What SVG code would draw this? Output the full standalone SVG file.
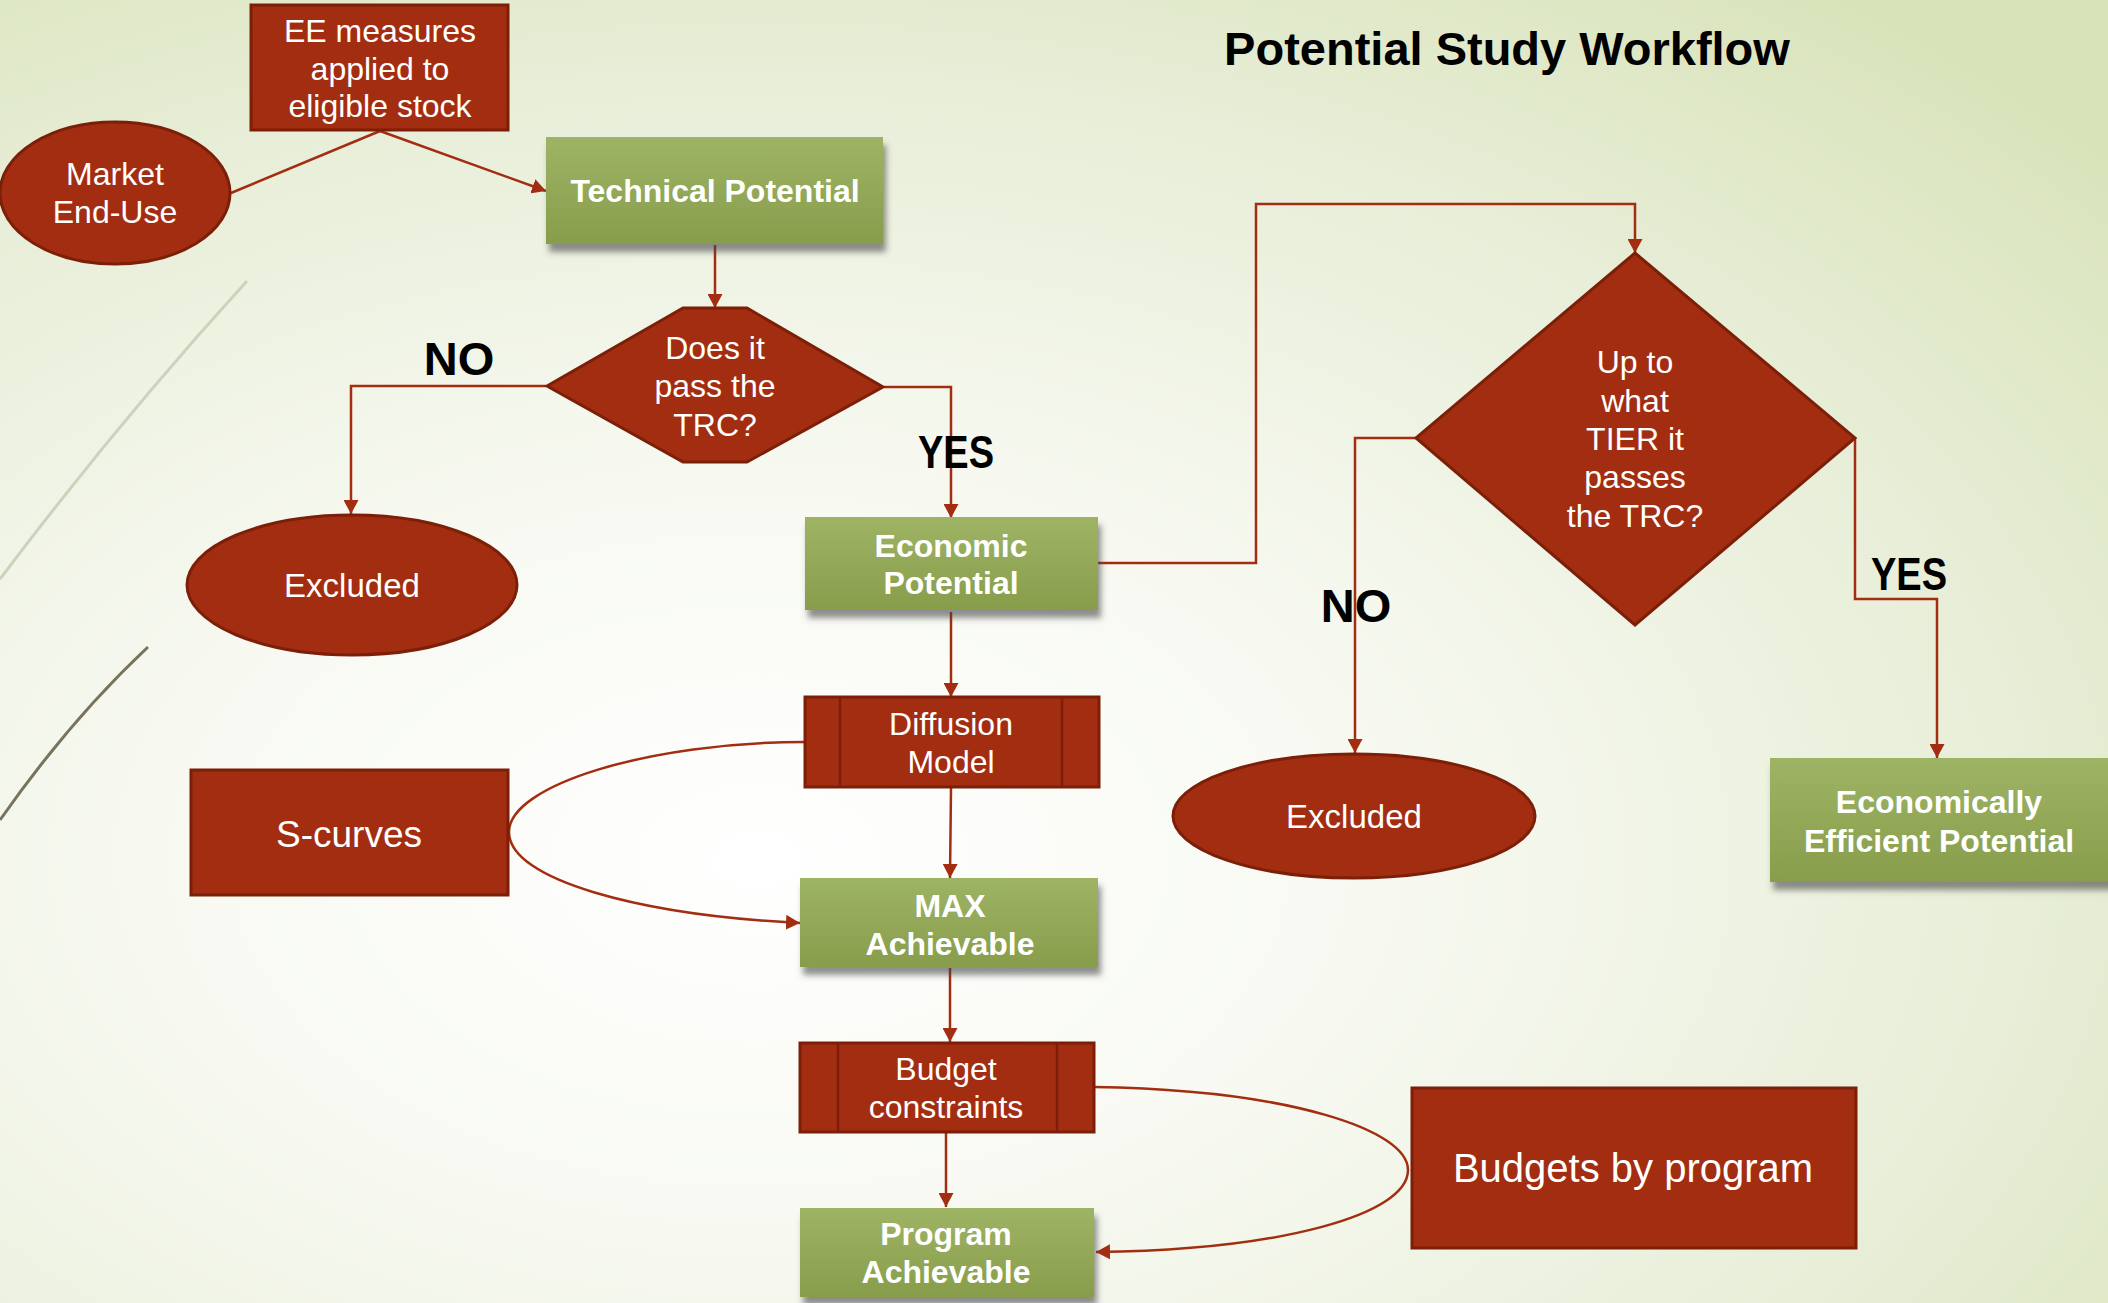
<svg xmlns="http://www.w3.org/2000/svg" width="2108" height="1303" viewBox="0 0 2108 1303">
<defs>
  <radialGradient id="bg" cx="0.36" cy="0.66" r="0.85">
    <stop offset="0" stop-color="#FFFFFF"/>
    <stop offset="0.35" stop-color="#F7F9F1"/>
    <stop offset="0.7" stop-color="#E8EED8"/>
    <stop offset="1" stop-color="#D8E3B9"/>
  </radialGradient>
  <linearGradient id="grn" x1="0" y1="0" x2="0" y2="1">
    <stop offset="0" stop-color="#9EB465"/>
    <stop offset="1" stop-color="#889D4B"/>
  </linearGradient>
  <filter id="sh" x="-10%" y="-10%" width="125%" height="140%">
    <feDropShadow dx="3" dy="8" stdDeviation="3" flood-color="#444" flood-opacity="0.6"/>
  </filter>
  <marker id="arr" viewBox="0 0 14 15" refX="14" refY="7.5" markerWidth="14" markerHeight="15" markerUnits="userSpaceOnUse" orient="auto">
    <path d="M0,0 L14,7.5 L0,15 z" fill="#A32D10"/>
  </marker>
  <style>
    .red{fill:#A32D10;stroke:#7C1F09;stroke-width:3}
    .inner{stroke:#7C1F09;stroke-width:2.5}
    .green{fill:url(#grn);filter:url(#sh)}
    .w{fill:#FFFFFF;font-family:"Liberation Sans",Arial,sans-serif;font-size:32px;text-anchor:middle}
    .wb{fill:#FFFFFF;font-family:"Liberation Sans",Arial,sans-serif;font-size:32px;font-weight:bold;text-anchor:middle}
    .lbl{fill:#000000;font-family:"Liberation Sans",Arial,sans-serif;font-size:47px;font-weight:bold;text-anchor:middle}
    .title{fill:#000000;font-family:"Liberation Sans",Arial,sans-serif;font-size:47px;font-weight:bold;text-anchor:middle}
    .c{fill:none;stroke:#A32D10;stroke-width:2.5}
  </style>
</defs>

<rect x="0" y="0" width="2108" height="1303" fill="url(#bg)"/>

<!-- decorative theme lines -->
<path d="M247,281 Q120,420 0,579" fill="none" stroke="#CDD2BC" stroke-width="3"/>
<path d="M148,647 Q70,720 0,820" fill="none" stroke="#77735C" stroke-width="3"/>

<text class="title" x="1507" y="65">Potential Study Workflow</text>

<g id="connectors">
  <path class="c" d="M380,131 L231,193"/>
  <path class="c" d="M380,131 L546,191" marker-end="url(#arr)"/>
  <path class="c" d="M715,245 L715,308" marker-end="url(#arr)"/>
  <path class="c" d="M546,386 L351,386 L351,514" marker-end="url(#arr)"/>
  <path class="c" d="M884,387 L951,387 L951,518" marker-end="url(#arr)"/>
  <path class="c" d="M1098,563 L1256,563 L1256,204 L1635,204 L1635,253" marker-end="url(#arr)"/>
  <path class="c" d="M1416,438 L1355,438 L1355,753" marker-end="url(#arr)"/>
  <path class="c" d="M1855,438 L1855,599 L1937,599 L1937,758" marker-end="url(#arr)"/>
  <path class="c" d="M951,612 L951,697" marker-end="url(#arr)"/>
  <path class="c" d="M951,788 L950,878" marker-end="url(#arr)"/>
  <path class="c" d="M805,742 C650,742 509,785 509,832 C509,880 640,915 800,923" marker-end="url(#arr)"/>
  <path class="c" d="M950,968 L950,1042" marker-end="url(#arr)"/>
  <path class="c" d="M946,1132 L946,1207" marker-end="url(#arr)"/>
  <path class="c" d="M1094,1087 C1290,1090 1408,1130 1408,1170 C1408,1215 1280,1250 1096,1252" marker-end="url(#arr)"/>
</g>

<g id="ee-measures">
  <rect class="red" x="251" y="5" width="257" height="125"/>
  <text class="w" x="380" y="42">EE measures</text>
  <text class="w" x="380" y="80">applied to</text>
  <text class="w" x="380" y="117">eligible stock</text>
</g>

<g id="market-end-use">
  <ellipse class="red" cx="115" cy="193" rx="115" ry="71"/>
  <text class="w" x="115" y="185">Market</text>
  <text class="w" x="115" y="223">End-Use</text>
</g>

<g id="technical-potential">
  <rect class="green" x="546" y="137" width="337" height="107"/>
  <text class="wb" x="715" y="202">Technical Potential</text>
</g>

<g id="pass-trc">
  <polygon class="red" points="547,386 683,308 747,308 883,387 747,462 683,462"/>
  <text class="w" x="715" y="359">Does it</text>
  <text class="w" x="715" y="397">pass the</text>
  <text class="w" x="715" y="436">TRC?</text>
</g>

<text class="lbl" x="459" y="375">NO</text>
<text class="lbl" x="956" y="468" textLength="76" lengthAdjust="spacingAndGlyphs">YES</text>

<g id="excluded-left">
  <ellipse class="red" cx="352" cy="585" rx="165" ry="70"/>
  <text class="w" x="352" y="597" style="font-size:33px">Excluded</text>
</g>

<g id="economic-potential">
  <rect class="green" x="805" y="517" width="293" height="93"/>
  <text class="wb" x="951" y="557">Economic</text>
  <text class="wb" x="951" y="594">Potential</text>
</g>

<g id="diffusion-model">
  <rect class="red" x="805" y="697" width="294" height="90"/>
  <line class="inner" x1="840" y1="697" x2="840" y2="787"/>
  <line class="inner" x1="1062" y1="697" x2="1062" y2="787"/>
  <text class="w" x="951" y="735">Diffusion</text>
  <text class="w" x="951" y="773">Model</text>
</g>

<g id="s-curves">
  <rect class="red" x="191" y="770" width="317" height="125"/>
  <text class="w" x="349" y="847" style="font-size:37px">S-curves</text>
</g>

<g id="max-achievable">
  <rect class="green" x="800" y="878" width="298" height="89"/>
  <text class="wb" x="950" y="917">MAX</text>
  <text class="wb" x="950" y="955">Achievable</text>
</g>

<g id="budget-constraints">
  <rect class="red" x="800" y="1043" width="294" height="89"/>
  <line class="inner" x1="838" y1="1043" x2="838" y2="1132"/>
  <line class="inner" x1="1057" y1="1043" x2="1057" y2="1132"/>
  <text class="w" x="946" y="1080">Budget</text>
  <text class="w" x="946" y="1118">constraints</text>
</g>

<g id="program-achievable">
  <rect class="green" x="800" y="1208" width="294" height="89"/>
  <text class="wb" x="946" y="1245">Program</text>
  <text class="wb" x="946" y="1283">Achievable</text>
</g>

<g id="budgets-by-program">
  <rect class="red" x="1412" y="1088" width="444" height="160"/>
  <text class="w" x="1633" y="1182" style="font-size:40px">Budgets by program</text>
</g>

<g id="tier-trc">
  <polygon class="red" points="1635,253 1855,438 1635,625 1416,438"/>
  <text class="w" x="1635" y="373">Up to</text>
  <text class="w" x="1635" y="412">what</text>
  <text class="w" x="1635" y="450">TIER it</text>
  <text class="w" x="1635" y="488">passes</text>
  <text class="w" x="1635" y="527">the TRC?</text>
</g>

<text class="lbl" x="1356" y="622">NO</text>
<text class="lbl" x="1909" y="590" textLength="76" lengthAdjust="spacingAndGlyphs">YES</text>

<g id="excluded-right">
  <ellipse class="red" cx="1354" cy="816" rx="181" ry="62"/>
  <text class="w" x="1354" y="828" style="font-size:33px">Excluded</text>
</g>

<g id="economically-efficient-potential">
  <rect class="green" x="1770" y="758" width="345" height="124"/>
  <text class="wb" x="1939" y="813">Economically</text>
  <text class="wb" x="1939" y="852">Efficient Potential</text>
</g>
</svg>
